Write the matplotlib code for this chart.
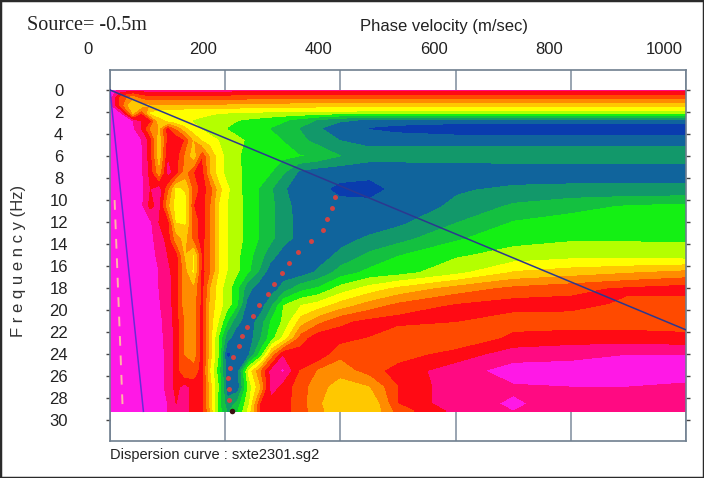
import numpy as np
import matplotlib
matplotlib.use("Agg")
import matplotlib.pyplot as plt
from matplotlib.transforms import ScaledTranslation
from matplotlib.patches import Rectangle

plt.rcParams['font.family'] = ['Liberation Sans Narrow', 'Liberation Sans', 'DejaVu Sans']

# velocity nodes (m/s) and frequency nodes (Hz) of the read-off grid
vel_nodes = [0, 20, 40, 55, 70, 85, 100, 115, 130, 145, 160, 175, 190, 205, 220,
             240, 260, 280, 300, 330, 360, 400, 450, 500, 600, 700, 800, 900, 1000]
freq_nodes = [0, 0.7, 1.4, 2.1, 2.8, 3.5, 4.5, 6, 7.5, 9, 10.5, 12, 13.5, 15,
              16.5, 18, 19.5, 21, 22.5, 24, 25.5, 27, 28.5, 29.2]

# colour band index (0 = magenta ... 12 = deep blue)
level_grid = [
    [0, 0.8, 1, 1, 1, 1, 1, 1, 1, 1, 1, 1, 1, 1, 1, 1, 1, 1, 1, 1, 1, 1, 1, 1, 1, 1, 1, 1, 1],
    [0, 3, 4, 3, 2.8, 2.8, 2.8, 2.8, 2.8, 2.8, 2.8, 2.8, 2.9, 2.9, 3, 3, 3, 3, 3, 3, 3.1, 3.1, 3.2, 3.2, 3.2, 3.2, 3.2, 3.2, 3.2],
    [0, 3, 5.5, 5, 4.5, 4.5, 4.5, 4.5, 4.5, 4.5, 4.5, 4.5, 4.5, 4.6, 4.6, 4.7, 4.7, 4.8, 4.8, 4.9, 4.9, 5, 5, 5, 5, 5, 5, 5, 5],
    [0, 0.5, 4.5, 2.5, 5.5, 6, 6, 6, 6.2, 6.2, 6.3, 6.3, 6.4, 6.4, 6.5, 6.5, 6.5, 6.6, 6.6, 6.6, 6.7, 6.7, 6.8, 6.8, 6.8, 6.8, 6.8, 6.8, 6.8],
    [0, 0, 0.5, 1.5, 2, 5, 5.5, 6, 6.3, 6.5, 6.6, 6.8, 7, 7.2, 7.4, 7.6, 7.8, 8, 8.3, 8.8, 9.5, 10.3, 10.6, 10.8, 10.8, 10.8, 10.8, 10.8, 10.8],
    [0, 0, 0.3, 1.5, 3.5, 4.5, 2, 3.5, 5, 6, 6.5, 7, 7.2, 7.5, 7.8, 8, 8.2, 8.5, 8.8, 9.5, 10.3, 11, 11.5, 11.8, 12.2, 12.2, 12.2, 12.2, 12.2],
    [0, 0, 0, 0.5, 2, 5, 2, 1.8, 2.5, 4.5, 5.5, 6, 6.5, 6.8, 7.2, 7.6, 8, 8.2, 8.5, 9.2, 9.8, 10.5, 10.8, 10.8, 10.8, 10.8, 10.8, 10.8, 10.8],
    [0, 0, 0, 0.3, 2, 5, 1.5, 2, 3.5, 5, 2.5, 4.5, 6, 6.8, 7.3, 7.8, 8, 8, 8.2, 8.4, 8.6, 9.4, 10, 10, 10, 10, 10, 10, 10],
    [0, 0, 0, 0.3, 1.8, 4, 1, 2, 3.8, 2.5, 2, 4.5, 6, 6.8, 7.2, 7.8, 8.1, 8.4, 9.2, 10.6, 11, 11.1, 11.2, 11.2, 11.1, 11, 11, 11, 11],
    [0, 0, 0, 0.2, 1.5, 0.8, 3, 5.6, 5.4, 3, 2, 3, 5, 6.3, 7, 8, 8.5, 9.3, 10.3, 11, 11.2, 11.7, 11.8, 11.2, 10.6, 10.3, 10.2, 10.2, 10.2],
    [0, 0, 0, 0.3, 1.8, 1, 4, 5.9, 5.8, 2.5, 2, 3.5, 5.5, 6.5, 7, 7.8, 8.5, 9.2, 10, 10.9, 11.1, 11.2, 11.2, 11.1, 10.3, 9.3, 8.8, 8.4, 8.2],
    [0, 0, 0, 0, 0.3, 1.5, 1.8, 5.5, 5.6, 3, 2, 3.5, 5.5, 6.5, 7, 7.8, 8.5, 9.2, 10, 10.8, 11, 11.1, 11, 10.7, 9.5, 8.4, 8.1, 8, 7.9],
    [0, 0, 0, 0, 0.2, 1, 1.8, 4, 4.8, 3, 2, 3.5, 5.5, 6.5, 7, 7.8, 8.5, 9.2, 10, 10.8, 11, 10.8, 10.3, 9.8, 8.6, 7.8, 7.6, 7.6, 7.6],
    [0, 0, 0, 0, 0, 0.8, 1.5, 2, 4.5, 5.5, 2.2, 3.5, 5.5, 6.5, 7.2, 8, 9, 10, 10.8, 11.1, 11, 10.2, 9.2, 8.5, 7.6, 7.1, 6.8, 6.9, 7],
    [0, 0, 0, 0, 0, 0.5, 1.2, 2, 4, 5.6, 2, 3.5, 5.5, 6.5, 7.2, 8.2, 9.5, 11, 11.1, 11, 10.3, 9, 8.2, 7.9, 6.8, 5.4, 5, 4.6, 4.2],
    [0, 0, 0, 0, 0, 0.5, 1, 2, 4, 4.2, 2, 4.5, 6, 7, 8, 10, 11, 11, 10, 8.8, 8.3, 7, 6, 5.2, 4, 3.2, 2.8, 2.3, 2],
    [0, 0, 0, 0, 0, 0.4, 1, 2, 4, 4, 2, 4.8, 6, 7, 8, 10.8, 11, 9.5, 7.5, 6.5, 6, 5, 4, 3.2, 2.4, 2, 2.1, 2.7, 3],
    [0, 0, 0, 0, 0, 0.3, 0.8, 2, 3.5, 4, 2, 5, 6.5, 8.3, 10, 11, 10, 8.2, 7.3, 5, 3.8, 2.7, 2.2, 2, 2.4, 3, 3, 3, 3],
    [0, 0, 0, 0, 0, 0.2, 0.8, 1.8, 3.5, 4, 2, 5, 7.5, 10, 11, 11, 9.5, 7.8, 6.2, 3, 1.8, 2, 2.5, 3.5, 3.5, 2.2, 2, 2, 2.2],
    [0, 0, 0, 0, 0, 0, 0.8, 1.8, 3.5, 4, 2, 5, 7.5, 11.6, 11, 10.5, 8, 4, 1.5, 2, 1.5, 3.2, 3.5, 3, 2, 1, 0.8, 0.5, 0.5],
    [0, 0, 0, 0, 0, 0, 0.8, 1.8, 3.5, 3, 2, 5.5, 8, 11, 10.8, 6, 3.5, 1, 0.3, 2.5, 3.5, 4, 3, 2, 1, 0, 0, 0, 0.2],
    [0, 0, 0, 0, 0, 0, 0.8, 1.8, 1, 2, 2, 5, 7.5, 11, 11, 7, 4.5, 0.8, 1.8, 3, 4, 5, 4.5, 2.5, 0.8, 0.6, 0.5, 0.5, 0.6],
    [0, 0, 0, 0, 0, 0, 0.5, 1.5, 1, 2, 2, 5, 8, 10, 9, 6.5, 2.5, 2, 2, 3, 4.2, 5.5, 5.5, 2.5, 0.8, 0.4, 0.8, 1, 1.5],
    [0, 0, 0, 0, 0, 0, 0.5, 1.5, 1, 2, 2, 4.5, 8, 9.5, 8.5, 6, 2.5, 2, 2, 3, 4, 5.5, 5.5, 3, 1.2, 0.5, 1, 1.2, 1.5],
]

band_colors = ['#ff18e6', '#ff0a82', '#ff0a14', '#ff4a00', '#ff8c00', '#ffc800',
               '#ffff00', '#b4ff00', '#14f014', '#14c040', '#12986a', '#10649c', '#0a3cae']

# picked dispersion curve
disp_freq = [9.7, 10.7, 11.7, 12.7, 13.7, 14.7, 15.7, 16.6, 17.6, 18.5, 19.5,
             20.5, 21.5, 22.4, 23.3, 24.3, 25.3, 26.2, 27.2, 28.2, 29.2]
disp_vel = [390, 385, 376, 369, 349, 327, 310, 298, 284, 275, 259,
            248, 237, 229, 224, 214, 208, 205, 207, 207, 211]

# wavelength limit lines and the faint dashed trace
short_line_vel = [0, 58]
short_line_freq = [0, 29.2]
long_line_vel = [0, 1000]
long_line_freq = [0, 21.8]
faint_vel = [8, 22]
faint_freq = [10, 29]

xticks = [0, 200, 400, 600, 800, 1000]
yticks = list(range(0, 31, 2))

fig = plt.figure(figsize=(7.04, 4.78), dpi=100)
ax = fig.add_axes([110 / 704, 1 - 441 / 478, 576 / 704, 371 / 478])

ax.contourf(vel_nodes, freq_nodes, np.array(level_grid),
            levels=np.arange(-0.5, 13.0, 1.0), colors=band_colors, zorder=1)

ax.plot(faint_vel, faint_freq, color='#ffb4a8', lw=1.4, ls=(0, (5, 5)), zorder=2)
ax.plot(short_line_vel, short_line_freq, color='#6a2ad8', lw=1.1, zorder=3)
ax.plot(long_line_vel, long_line_freq, color='#2c3890', lw=1.1, zorder=3)
ax.plot(disp_vel[:-1], disp_freq[:-1], ls='none', marker='o', ms=3.6,
        mfc='#d04444', mec='none', zorder=4)
ax.plot(disp_vel[-1:], disp_freq[-1:], ls='none', marker='o', ms=4,
        mfc='#3a1010', mec='none', zorder=4, clip_on=False)

ax.set_xlim(0, 1000)
ax.set_ylim(31.9, -1.82)

ax.set_axisbelow(True)
ax.set_xticks(xticks)
ax.grid(axis='x', color='#7d8c9c', lw=1.1)
ax.xaxis.tick_top()
ax.tick_params(axis='x', length=0, pad=9, labelsize=12, labelcolor='#222222')
shift = ScaledTranslation(-0.22, 0, fig.dpi_scale_trans)
for lbl in ax.get_xticklabels():
    lbl.set_transform(lbl.get_transform() + shift)

ax.set_yticks(yticks)
ax.tick_params(axis='y', direction='out', length=3, width=1, color='#444444',
               left=True, right=True, labelleft=True, pad=34,
               labelsize=12, labelcolor='#222222')
for lbl in ax.get_yticklabels():
    lbl.set_horizontalalignment('center')

for sp in ax.spines.values():
    sp.set_color('#6f7f8f')
    sp.set_linewidth(1.2)

fig.text(19 / 704, 1 - 261 / 478, 'F r e q u e n c y (Hz)', rotation=90,
         ha='center', va='center', fontsize=12, color='#333333')
fig.text(444 / 704, 1 - 26 / 478, 'Phase velocity (m/sec)', ha='center',
         va='center', fontsize=12, color='#222222')
fig.text(27 / 704, 1 - 25 / 478, 'Source= -0.5m', ha='left', va='center',
         fontsize=14.5, color='#222222', family=['Liberation Serif', 'DejaVu Serif'])
fig.text(110 / 704, 1 - 455 / 478, 'Dispersion curve : sxte2301.sg2', ha='left',
         va='center', fontsize=10.5, color='#222222')

fig.patches.append(Rectangle((0, 0), 1, 1, transform=fig.transFigure, fill=False,
                             lw=2.5, ec='#2a2a2a'))

fig.savefig('out.png', dpi=100)
